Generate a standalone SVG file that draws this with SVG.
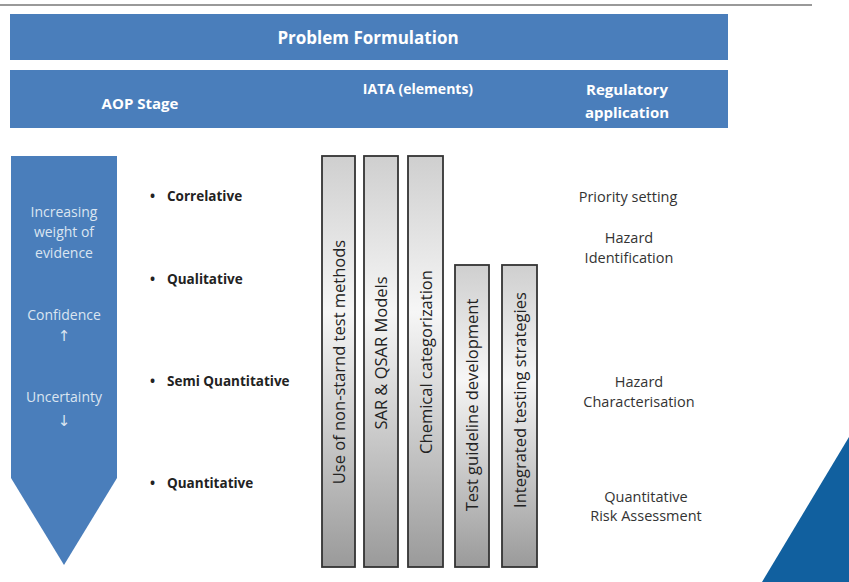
<svg xmlns="http://www.w3.org/2000/svg" width="849" height="582" viewBox="0 0 849 582">
<style>
.hdr{fill:#4a7ebb;}
.ht{font-family:"Open Sans","Liberation Sans",Arial,sans-serif;font-weight:bold;fill:#fff;text-anchor:middle;}
.at{font-family:"Open Sans","Liberation Sans",Arial,sans-serif;font-size:14px;fill:#dbe5f1;text-anchor:middle;}
.ar{font-family:"DejaVu Sans",sans-serif;font-size:15px;fill:#dbe5f1;text-anchor:middle;}
.bl{font-family:"Open Sans","Liberation Sans",Arial,sans-serif;font-size:13.5px;font-weight:bold;fill:#222;}
.bar{fill:url(#g);stroke:#333;stroke-width:1.8;}
.bt{font-family:"Open Sans","Liberation Sans",Arial,sans-serif;font-size:16.5px;fill:#222;text-anchor:middle;}
.rt{font-family:"Open Sans","Liberation Sans",Arial,sans-serif;font-size:14.5px;fill:#333;text-anchor:middle;}
</style>
<defs>
<linearGradient id="g" x1="0" y1="0" x2="0" y2="1">
<stop offset="0" stop-color="#cfcfcf"/>
<stop offset="0.38" stop-color="#f6f6f6"/>
<stop offset="1" stop-color="#9a9a9a"/>
</linearGradient>
</defs>
<rect width="849" height="582" fill="#fff"/>
<line x1="0" y1="5" x2="812" y2="5" stroke="#777" stroke-width="1.5"/>
<g id="problem-formulation">
<rect class="hdr" x="10" y="14" width="718" height="46"/>
<text class="ht" x="368" y="44" font-size="17">Problem Formulation</text>
</g>
<g id="header">
<rect class="hdr" x="10" y="70" width="718" height="58"/>
<text class="ht" x="140" y="109" font-size="15">AOP Stage</text>
<text class="ht" x="418" y="94" font-size="14">IATA (elements)</text>
<text class="ht" x="627" y="95" font-size="15">Regulatory</text>
<text class="ht" x="627" y="118" font-size="15">application</text>
</g>
<g id="aop-arrow">
<polygon points="11,156 117,156 117,478 64,565 11,478" fill="#4a7ebb"/>
<text class="at" x="64" y="217">Increasing</text>
<text class="at" x="64" y="237">weight of</text>
<text class="at" x="64" y="258">evidence</text>
<text class="at" x="64" y="320">Confidence</text>
<text class="ar" x="64" y="341">↑</text>
<text class="at" x="64" y="402">Uncertainty</text>
<text class="ar" x="64" y="426">↓</text>
</g>
<g id="aop-stages">
<text class="bl" x="150" y="201">•</text><text class="bl" x="167" y="201">Correlative</text>
<text class="bl" x="150" y="284">•</text><text class="bl" x="167" y="284">Qualitative</text>
<text class="bl" x="150" y="386">•</text><text class="bl" x="167" y="386">Semi Quantitative</text>
<text class="bl" x="150" y="488">•</text><text class="bl" x="167" y="488">Quantitative</text>
</g>
<g id="bar1">
<rect class="bar" x="322" y="156" width="33" height="411"/>
<text class="bt" transform="translate(344.5,362) rotate(-90)">Use of non-starnd test methods</text>
</g>
<g id="bar2">
<rect class="bar" x="364" y="156" width="34" height="411"/>
<text class="bt" transform="translate(387,353) rotate(-90)">SAR &amp; QSAR Models</text>
</g>
<g id="bar3">
<rect class="bar" x="408" y="156" width="35" height="411"/>
<text class="bt" transform="translate(431.5,362) rotate(-90)">Chemical categorization</text>
</g>
<g id="bar4">
<rect class="bar" x="455" y="265" width="34" height="302"/>
<text class="bt" transform="translate(478,405) rotate(-90)">Test guideline development</text>
</g>
<g id="bar5">
<rect class="bar" x="502" y="265" width="35" height="302"/>
<text class="bt" transform="translate(525.5,400) rotate(-90)">Integrated testing strategies</text>
</g>
<g id="regulatory">
<text class="rt" x="628" y="202">Priority setting</text>
<text class="rt" x="629" y="243">Hazard</text>
<text class="rt" x="629" y="263">Identification</text>
<text class="rt" x="639" y="387">Hazard</text>
<text class="rt" x="639" y="407">Characterisation</text>
<text class="rt" x="646" y="502">Quantitative</text>
<text class="rt" x="646" y="521">Risk Assessment</text>
</g>
<polygon points="849,437 849,582 762,582" fill="#11609f"/>
</svg>
